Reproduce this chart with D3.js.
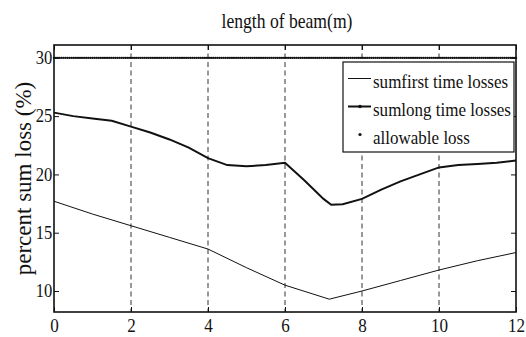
<!DOCTYPE html>
<html><head><meta charset="utf-8">
<script src="https://cdn.jsdelivr.net/npm/d3@7"></script>
<style>
body{margin:0;background:#fff;}
</style></head>
<body><svg id="chart" width="526" height="337"></svg>
<script>
// ---- data ----
const firstX = [0, 1, 2, 3, 4, 5, 6, 7.15, 8, 9, 10, 11, 12];
const firstY = [17.7, 16.6, 15.6, 14.6, 13.6, 12.0, 10.5, 9.3, 10.0, 10.9, 11.8, 12.6, 13.3];
const longX = [0, 0.5, 1, 1.5, 2, 2.5, 3, 3.5, 4, 4.5, 5, 5.5, 6, 6.5, 7, 7.2, 7.5, 8, 8.5, 9, 9.5, 10, 10.5, 11, 11.5, 12];
const longY = [25.3, 25.0, 24.8, 24.6, 24.1, 23.6, 23.0, 22.3, 21.4, 20.8, 20.7, 20.8, 21.0, 19.5, 17.9, 17.4, 17.45, 17.9, 18.7, 19.4, 20.0, 20.6, 20.8, 20.9, 21.0, 21.2];
const allowableLoss = 30;
const xTicks = [0, 2, 4, 6, 8, 10, 12];
const yTicks = [10, 15, 20, 25, 30];
const legendLabels = ["sumfirst time losses", "sumlong time losses", "allowable loss"];
const titleText = "length of beam(m)";
const yLabelText = "percent sum loss (%)";

const FONT = "'Liberation Serif', 'Times New Roman', serif";

// ---- layout ----
const svg = d3.select("#chart");
const L = 54, R = 516, T = 45, B = 312;
const x = d3.scaleLinear().domain([0, 12]).range([L, R]);
const y = d3.scaleLinear().domain([8.2, 31.1]).range([B, T]);

// grid (dashed verticals)
svg.append("g").selectAll("line").data(xTicks.slice(1, -1)).join("line")
  .attr("x1", d => x(d)).attr("x2", d => x(d)).attr("y1", T).attr("y2", B)
  .attr("stroke", "#333").attr("stroke-width", 1).attr("stroke-dasharray", "5,3.5");

// axes with inward ticks
const fmt = d3.format("d");
const gB = svg.append("g").attr("transform", `translate(0,${B})`)
  .call(d3.axisBottom(x).tickValues(xTicks).tickSizeInner(-5).tickSizeOuter(0).tickFormat(fmt));
const gT = svg.append("g").attr("transform", `translate(0,${T})`)
  .call(d3.axisTop(x).tickValues(xTicks).tickSizeInner(-5).tickSizeOuter(0).tickFormat(""));
const gL = svg.append("g").attr("transform", `translate(${L},0)`)
  .call(d3.axisLeft(y).tickValues(yTicks).tickSizeInner(-5).tickSizeOuter(0).tickPadding(2).tickFormat(fmt));
const gR = svg.append("g").attr("transform", `translate(${R},0)`)
  .call(d3.axisRight(y).tickValues(yTicks).tickSizeInner(-5).tickSizeOuter(0).tickFormat(""));
[gB, gT, gL, gR].forEach(g => {
  g.attr("font-family", FONT).attr("font-size", 18);
  g.select(".domain").remove();
  g.selectAll("line").attr("stroke", "#111").attr("stroke-width", 1);
  g.selectAll("text").attr("fill", "#111").attr("font-family", FONT);
});
gB.selectAll("text").attr("y", 20).attr("dy", null).attr("transform", "scale(0.95,1)");
gL.selectAll("text").attr("transform", "scale(0.92,1)");

// frame
svg.append("rect").attr("x", L).attr("y", T).attr("width", R - L).attr("height", B - T)
  .attr("fill", "none").attr("stroke", "#111").attr("stroke-width", 1.6);

// series
const line = d3.line().x(d => x(d[0])).y(d => y(d[1]));
svg.append("path").datum(firstX.map((v, i) => [v, firstY[i]]))
  .attr("d", line).attr("fill", "none").attr("stroke", "#111").attr("stroke-width", 1);
svg.append("path").datum(longX.map((v, i) => [v, longY[i]]))
  .attr("d", line).attr("fill", "none").attr("stroke", "#111").attr("stroke-width", 2);

// allowable loss dotted markers
const allowX = d3.range(0, 12.0001, 0.05);
svg.append("g").selectAll("circle").data(allowX).join("circle")
  .attr("cx", d => x(d)).attr("cy", y(allowableLoss)).attr("r", 1.2).attr("fill", "#111");

// legend
const lg = svg.append("g");
lg.append("rect").attr("x", 343).attr("y", 62).attr("width", 171).attr("height", 90)
  .attr("fill", "#fff").attr("stroke", "#111").attr("stroke-width", 1.2);
const ly = [78.5, 106.5, 134.5];
legendLabels.forEach((t, i) => {
  if (i < 2) {
    lg.append("line").attr("x1", 348).attr("x2", 371).attr("y1", ly[i]).attr("y2", ly[i])
      .attr("stroke", "#111").attr("stroke-width", i === 0 ? 1 : 2);
    if (i === 1) lg.append("circle").attr("cx", 360).attr("cy", ly[i]).attr("r", 1.8).attr("fill", "#111");
  } else {
    lg.append("circle").attr("cx", 360).attr("cy", ly[i]).attr("r", 1.6).attr("fill", "#111");
  }
  lg.append("text").attr("transform", `translate(373,${ly[i] + 9}) scale(0.92,1)`)
    .attr("font-family", FONT).attr("font-size", 18.5).attr("fill", "#111").text(t);
});

// title
svg.append("text").attr("transform", "translate(287,28) scale(0.8,1)").attr("text-anchor", "middle")
  .attr("font-family", FONT).attr("font-size", 22).attr("fill", "#111").text(titleText);

// y label
svg.append("text").attr("transform", `translate(31,${(T + B) / 2}) rotate(-90)`)
  .attr("text-anchor", "middle").attr("font-family", FONT).attr("font-size", 23)
  .attr("fill", "#111").text(yLabelText);

// once the serif face is available, re-apply the family so every text picks it up
if (document.fonts && document.fonts.load) {
  Promise.all([
    document.fonts.load("18px 'Liberation Serif'"),
    document.fonts.load("22px 'Liberation Serif'")
  ]).then(() => {
    svg.selectAll("text").each(function () {
      const f = this.getAttribute("font-family") || FONT;
      this.setAttribute("font-family", "serif");
      this.setAttribute("font-family", f);
    });
  }).catch(() => {});
}
</script></body></html>
